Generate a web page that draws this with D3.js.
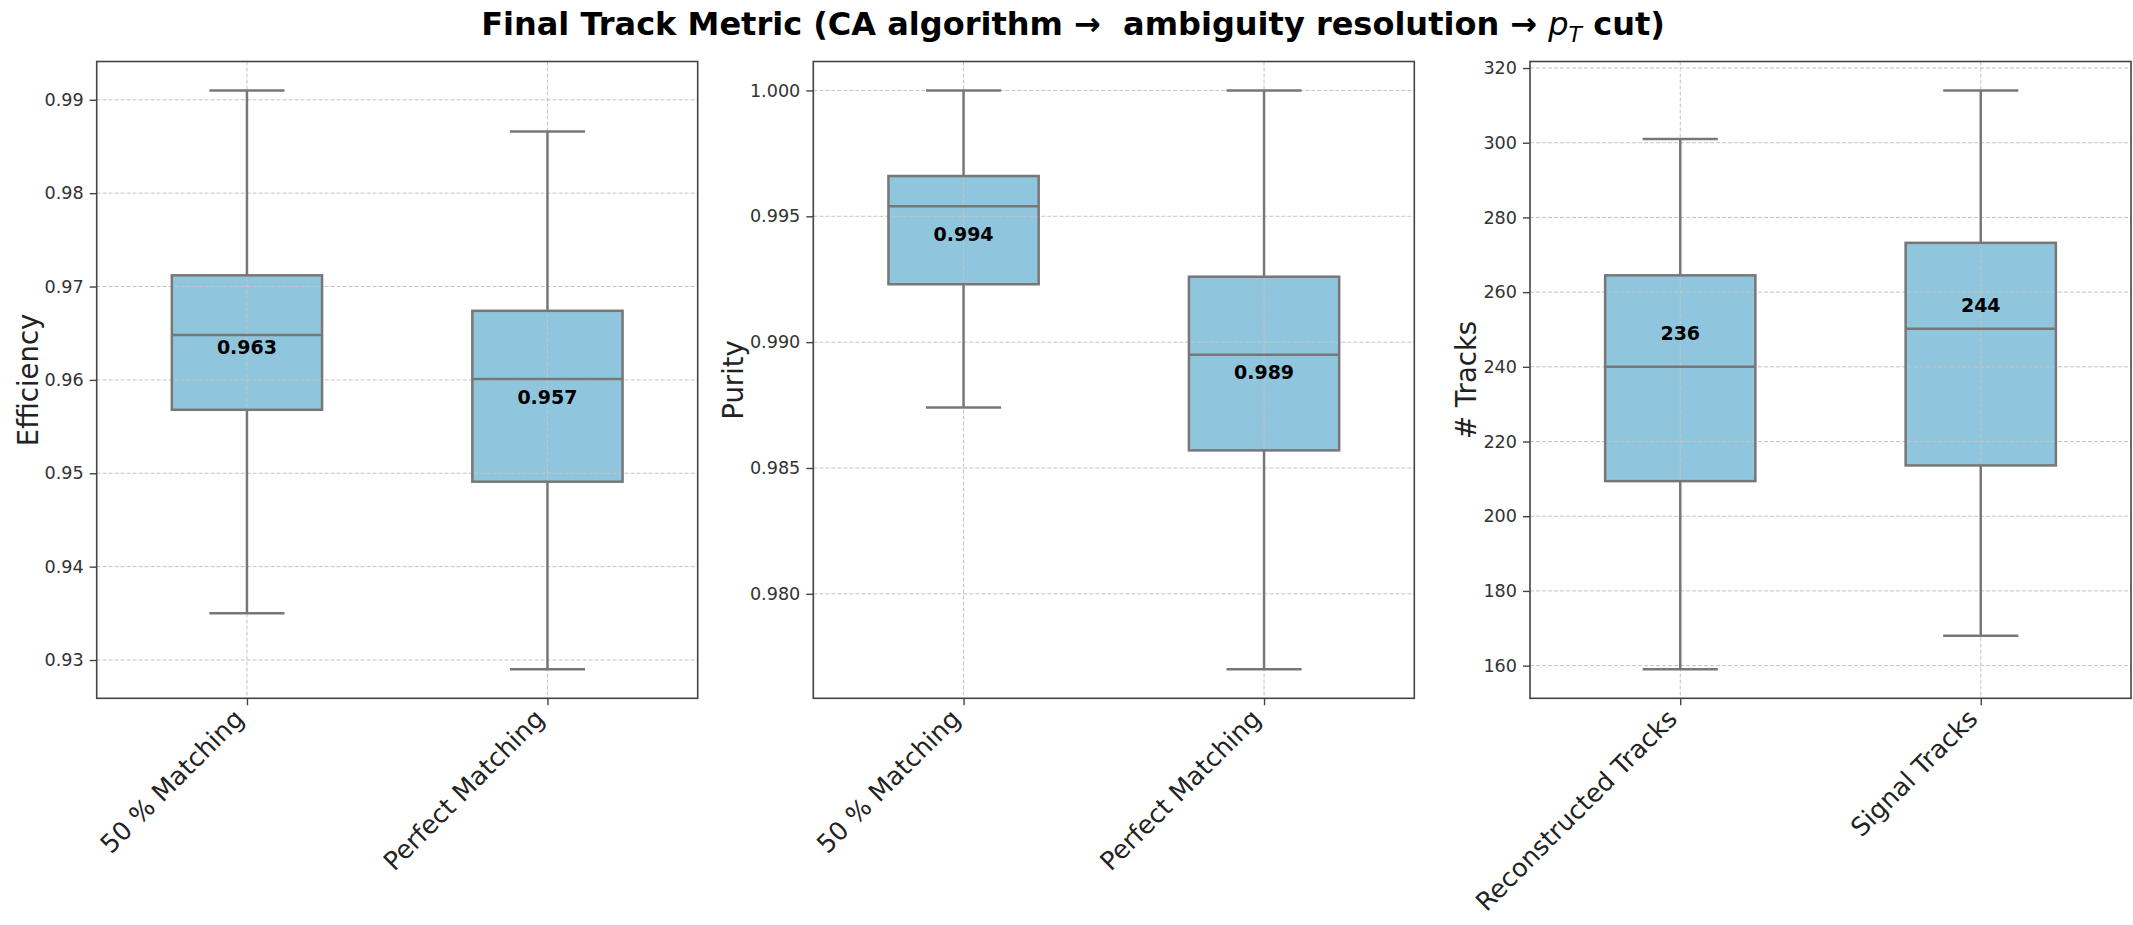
<!DOCTYPE html>
<html>
<head>
<meta charset="utf-8">
<script src="https://cdn.jsdelivr.net/npm/d3@7"></script>
<style>
  body { margin: 0; background: #fff; }
  text { font-family: "DejaVu Sans", sans-serif; }
</style>
</head>
<body>
<div class="chart"></div>
<script>
// Box statistics: whisker ends, quartiles, median, and the printed mean
var matchCategories = ["50 % Matching", "Perfect Matching"];
var trackCategories = ["Reconstructed Tracks", "Signal Tracks"];

var effLow = [0.9350, 0.9290];
var effQ1 = [0.9568, 0.9491];
var effMedian = [0.9648, 0.9601];
var effQ3 = [0.9712, 0.9674];
var effHigh = [0.9910, 0.9866];
var effMean = [0.963, 0.957];
var effLabelAt = [0.9635, 0.9582];
var effTicks = [0.93, 0.94, 0.95, 0.96, 0.97, 0.98, 0.99];

var purLow = [0.9874, 0.9770];
var purQ1 = [0.9923, 0.9857];
var purMedian = [0.9954, 0.9895];
var purQ3 = [0.9966, 0.9926];
var purHigh = [1.000, 1.000];
var purMean = [0.994, 0.989];
var purLabelAt = [0.9943, 0.9888];
var purTicks = [0.980, 0.985, 0.990, 0.995, 1.000];

var trkLow = [159, 168];
var trkQ1 = [209.4, 213.6];
var trkMedian = [240, 250.2];
var trkQ3 = [264.5, 273.2];
var trkHigh = [301, 314];
var trkMean = [236, 244];
var trkLabelAt = [249, 256.6];
var trkTicks = [160, 180, 200, 220, 240, 260, 280, 300, 320];

var svgWidth = 2133;
var svgHeight = 925;

var panelTop = 61.5;
var panelBottom = 698.3;
var panelWidth = 601;
var height = panelBottom - panelTop;

var boxFill = "#90c6dd";
var lineColor = "#777";

var svg = d3.select(".chart")
  .append("svg")
  .attr("width", svgWidth)
  .attr("height", svgHeight)
  .style("background", "#fff");

// Title with the p_T in math italics
var title = svg.append("text")
  .attr("x", 1073)
  .attr("y", 35)
  .attr("text-anchor", "middle")
  .attr("font-size", "32px")
  .attr("font-weight", "bold")
  .style("white-space", "pre")
  .attr("fill", "#000");
title.append("tspan").text("Final Track Metric (CA algorithm \u2192  ambiguity resolution \u2192 ");
title.append("tspan").attr("font-style", "italic").attr("font-weight", "normal").text("p");
title.append("tspan").attr("font-style", "italic").attr("font-weight", "normal")
  .attr("font-size", "22px").attr("dy", 7).text("T");
title.append("tspan").attr("dy", -7).text(" cut)");

function drawPanel(p) {
  var g = svg.append("g")
    .attr("transform", "translate(" + p.left + "," + panelTop + ")");

  var rows = p.cats.map(function(c, i) {
    return { cat: c, low: p.low[i], q1: p.q1[i], med: p.med[i], q3: p.q3[i],
             high: p.high[i], mean: p.mean[i], at: p.labelAt[i] };
  });

  // 5% margin around the whiskers, like matplotlib autoscaling
  var lo = d3.min(p.low), hi = d3.max(p.high);
  var pad = (hi - lo) * 0.05;
  var y = d3.scaleLinear().domain([lo - pad, hi + pad]).range([height, 0]);
  var x = d3.scalePoint().domain(p.cats).range([0, panelWidth]).padding(0.5);
  var boxW = x.step() * 0.5;
  var capW = boxW * 0.5;

  // box fill first, grid over it, then the outlines
  g.selectAll(".fill")
    .data(rows)
    .enter()
    .append("rect")
    .attr("x", function(d) { return x(d.cat) - boxW / 2; })
    .attr("y", function(d) { return y(d.q3); })
    .attr("width", boxW)
    .attr("height", function(d) { return y(d.q1) - y(d.q3); })
    .attr("fill", boxFill);

  g.selectAll(".hgrid")
    .data(p.ticks)
    .enter()
    .append("line")
    .attr("x1", 0).attr("x2", panelWidth)
    .attr("y1", function(d) { return y(d); })
    .attr("y2", function(d) { return y(d); })
    .attr("stroke", "#c4c4c4").attr("stroke-width", 1)
    .attr("stroke-dasharray", "4,2");
  g.selectAll(".vgrid")
    .data(p.cats)
    .enter()
    .append("line")
    .attr("x1", function(d) { return x(d); })
    .attr("x2", function(d) { return x(d); })
    .attr("y1", 0).attr("y2", height)
    .attr("stroke", "#c4c4c4").attr("stroke-width", 1)
    .attr("stroke-dasharray", "4,2");

  var box = g.selectAll(".box")
    .data(rows)
    .enter()
    .append("g")
    .attr("class", "box");

  // whiskers
  box.append("line")
    .attr("x1", function(d) { return x(d.cat); })
    .attr("x2", function(d) { return x(d.cat); })
    .attr("y1", function(d) { return y(d.high); })
    .attr("y2", function(d) { return y(d.q3); })
    .attr("stroke", lineColor).attr("stroke-width", 2.5);
  box.append("line")
    .attr("x1", function(d) { return x(d.cat); })
    .attr("x2", function(d) { return x(d.cat); })
    .attr("y1", function(d) { return y(d.q1); })
    .attr("y2", function(d) { return y(d.low); })
    .attr("stroke", lineColor).attr("stroke-width", 2.5);
  // caps
  box.append("line")
    .attr("x1", function(d) { return x(d.cat) - capW / 2; })
    .attr("x2", function(d) { return x(d.cat) + capW / 2; })
    .attr("y1", function(d) { return y(d.high); })
    .attr("y2", function(d) { return y(d.high); })
    .attr("stroke", lineColor).attr("stroke-width", 2.5);
  box.append("line")
    .attr("x1", function(d) { return x(d.cat) - capW / 2; })
    .attr("x2", function(d) { return x(d.cat) + capW / 2; })
    .attr("y1", function(d) { return y(d.low); })
    .attr("y2", function(d) { return y(d.low); })
    .attr("stroke", lineColor).attr("stroke-width", 2.5);
  // box outline
  box.append("rect")
    .attr("x", function(d) { return x(d.cat) - boxW / 2; })
    .attr("y", function(d) { return y(d.q3); })
    .attr("width", boxW)
    .attr("height", function(d) { return y(d.q1) - y(d.q3); })
    .attr("fill", "none")
    .attr("stroke", lineColor).attr("stroke-width", 2.5);
  // median
  box.append("line")
    .attr("x1", function(d) { return x(d.cat) - boxW / 2; })
    .attr("x2", function(d) { return x(d.cat) + boxW / 2; })
    .attr("y1", function(d) { return y(d.med); })
    .attr("y2", function(d) { return y(d.med); })
    .attr("stroke", lineColor).attr("stroke-width", 2.5);

  // mean labels
  box.append("text")
    .attr("x", function(d) { return x(d.cat); })
    .attr("y", function(d) { return y(d.at); })
    .attr("dy", "0.36em")
    .attr("text-anchor", "middle")
    .attr("font-size", "19px")
    .attr("font-weight", "bold")
    .attr("fill", "#000")
    .text(function(d) { return d3.format(p.meanFmt)(d.mean); });

  // frame
  g.append("rect")
    .attr("width", panelWidth)
    .attr("height", height)
    .attr("fill", "none")
    .attr("stroke", "#444")
    .attr("stroke-width", 1.6);

  // y axis
  var yAxis = g.append("g")
    .call(d3.axisLeft(y).tickValues(p.ticks).tickFormat(d3.format(p.fmt)).tickSize(7).tickPadding(6));
  yAxis.select(".domain").remove();
  yAxis.selectAll(".tick line").attr("stroke", "#444").attr("stroke-width", 1.4);
  yAxis.selectAll("text")
    .attr("font-size", "17.6px")
    .attr("font-family", "DejaVu Sans")
    .attr("fill", "#333");

  // x axis with 45 degree labels
  var xAxis = g.append("g")
    .attr("transform", "translate(0," + height + ")")
    .call(d3.axisBottom(x).tickSize(7));
  xAxis.select(".domain").remove();
  xAxis.selectAll(".tick line").attr("stroke", "#444").attr("stroke-width", 1.4);
  xAxis.selectAll("text")
    .attr("font-size", "25.5px")
    .attr("font-family", "DejaVu Sans")
    .attr("fill", "#222")
    .attr("text-anchor", "end")
    .attr("x", null).attr("y", null).attr("dy", null)
    .attr("transform", "translate(-2,22) rotate(-45)");

  // y label, placed left of the tick labels
  var tb = yAxis.node().getBBox();
  g.append("text")
    .attr("transform", "translate(" + (tb.x - 7) + "," + (height / 2) + ") rotate(-90)")
    .attr("text-anchor", "middle")
    .attr("font-size", "27.5px")
    .attr("fill", "#222")
    .text(p.ylabel);
}

drawPanel({ left: 96.7, cats: matchCategories, low: effLow, q1: effQ1, med: effMedian, q3: effQ3,
  high: effHigh, mean: effMean, labelAt: effLabelAt, ticks: effTicks, fmt: ".2f", meanFmt: ".3f",
  ylabel: "Efficiency" });
drawPanel({ left: 813.3, cats: matchCategories, low: purLow, q1: purQ1, med: purMedian, q3: purQ3,
  high: purHigh, mean: purMean, labelAt: purLabelAt, ticks: purTicks, fmt: ".3f", meanFmt: ".3f",
  ylabel: "Purity" });
drawPanel({ left: 1530, cats: trackCategories, low: trkLow, q1: trkQ1, med: trkMedian, q3: trkQ3,
  high: trkHigh, mean: trkMean, labelAt: trkLabelAt, ticks: trkTicks, fmt: "d", meanFmt: "d",
  ylabel: "# Tracks" });
</script>
</body>
</html>
